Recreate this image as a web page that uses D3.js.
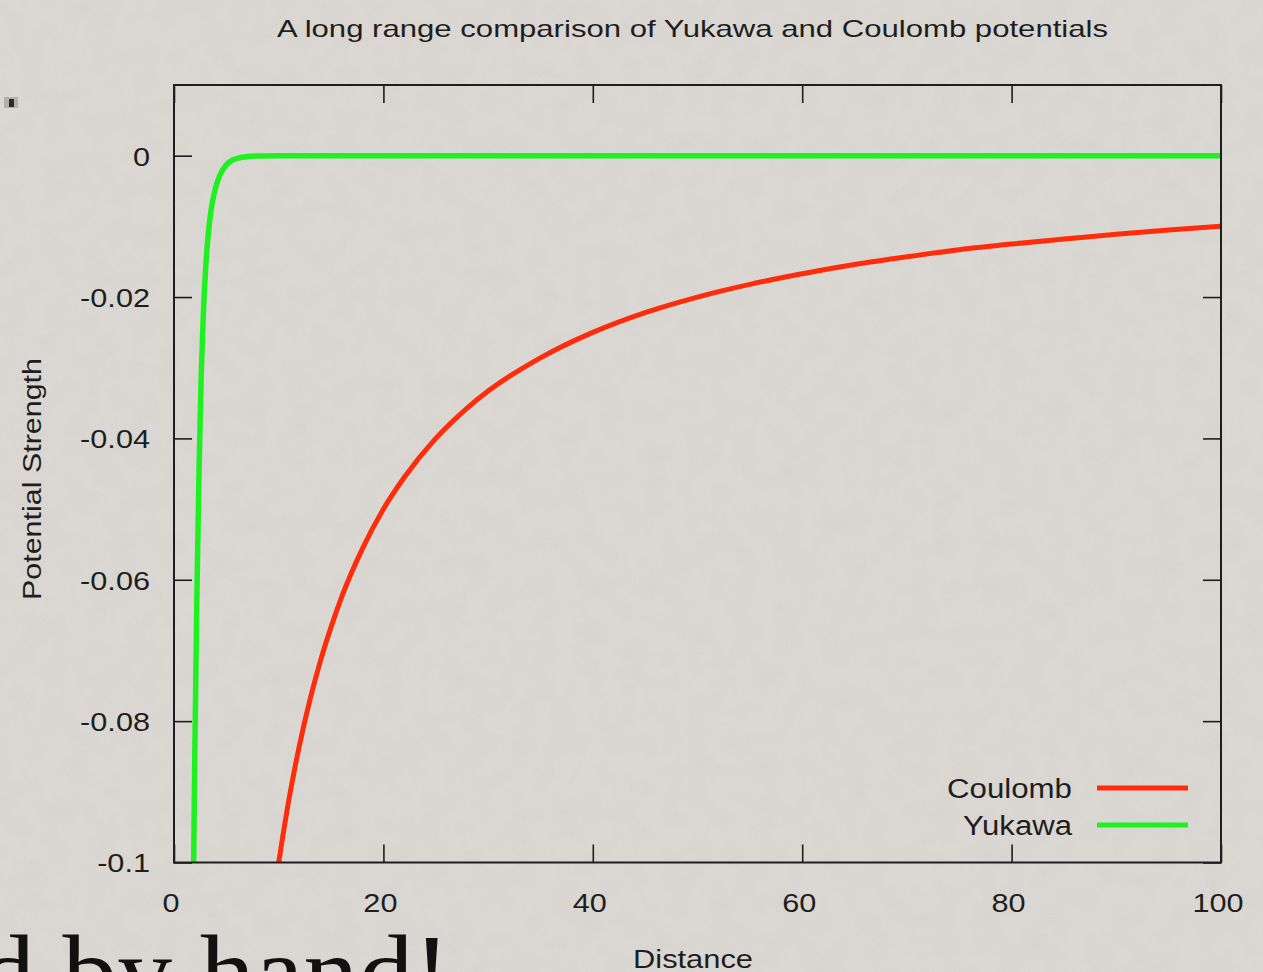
<!DOCTYPE html>
<html>
<head>
<meta charset="utf-8">
<script src="https://cdn.jsdelivr.net/npm/d3@7"></script>
<style>
  html, body { margin: 0; padding: 0; background: #dad7d2; overflow: hidden; }
  svg { display: block; }
</style>
</head>
<body>
<script>
// ---- chart text ----
const titleText = "A long range comparison of Yukawa and Coulomb potentials";
const xAxisLabel = "Distance";
const yAxisLabel = "Potential Strength";
const seriesNames = ["Coulomb", "Yukawa"];
const captionText = "d by hand!";

// ---- ticks ----
const xTicks = [0, 20, 40, 60, 80, 100];
const xTickLabels = ["0", "20", "40", "60", "80", "100"];
const yTicks = [-0.1, -0.08, -0.06, -0.04, -0.02, 0];
const yTickLabels = ["-0.1", "-0.08", "-0.06", "-0.04", "-0.02", "0"];

// ---- series ----
const coulombX = [10, 11, 12, 13, 14, 15, 16, 18, 20, 22, 25, 28, 30, 35, 40, 45, 50, 55, 60, 65, 70, 75, 80, 85, 90, 95, 100];
const coulombY = [-0.1, -0.0909, -0.0833, -0.0769, -0.0714, -0.0667, -0.0625, -0.0556, -0.05, -0.0455, -0.04, -0.0357, -0.0333,
                  -0.0286, -0.025, -0.0222, -0.02, -0.0182, -0.0167, -0.0154, -0.0143, -0.0133, -0.0125, -0.0118, -0.0111, -0.0105, -0.01];

const yukawaX = [1.75, 1.88, 2.0, 2.2, 2.4, 2.6, 2.8, 3.0, 3.2, 3.4, 3.7, 4.0, 4.4, 5.0, 5.5, 6.0, 7.0, 8.0, 10, 20, 40, 60, 80, 100];
const yukawaY = [-0.12, -0.1, -0.083, -0.061, -0.044, -0.031, -0.0225, -0.0165, -0.0123, -0.0093, -0.0063, -0.0044, -0.0027,
                 -0.0013, -0.0007, -0.0004, -0.00013, -0.00004, 0, 0, 0, 0, 0, 0];

// ---- layout & style ----
const W = 1263, H = 972;
const plot = { left: 174, right: 1221, top: 85, bottom: 862.5 };
const colors = { Coulomb: "#ff2c0c", Yukawa: "#1ff01f" };
const ink = "#1e1e1e";
const sansFont = "'Liberation Sans', Arial, sans-serif";
const serifFont = "'Liberation Serif', 'Times New Roman', serif";

const svg = d3.select("body").append("svg")
  .attr("width", W).attr("height", H);

// paper background with a faint mottled texture
const defs = svg.append("defs");
const paper = defs.append("filter").attr("id", "paper")
  .attr("x", 0).attr("y", 0).attr("width", "100%").attr("height", "100%");
paper.append("feTurbulence").attr("type", "fractalNoise")
  .attr("baseFrequency", 0.045).attr("numOctaves", 4).attr("seed", 7).attr("result", "noise");
paper.append("feColorMatrix").attr("in", "noise").attr("type", "matrix")
  .attr("values", "0 0 0 0 0.45  0 0 0 0 0.44  0 0 0 0 0.42  0 0 0 -0.9 0.55");
const grain = defs.append("filter").attr("id", "grain")
  .attr("x", 0).attr("y", 0).attr("width", "100%").attr("height", "100%");
grain.append("feTurbulence").attr("type", "fractalNoise")
  .attr("baseFrequency", 0.9).attr("numOctaves", 1).attr("seed", 3).attr("result", "noise");
grain.append("feColorMatrix").attr("in", "noise").attr("type", "matrix")
  .attr("values", "0 0 0 0 0.3  0 0 0 0 0.3  0 0 0 0 0.28  0 0 0 -1.2 0.62");

svg.append("rect").attr("width", W).attr("height", H).attr("fill", "#dbd8d3");
svg.append("rect").attr("width", W).attr("height", H).attr("filter", "url(#paper)").attr("opacity", 0.18);
svg.append("rect").attr("width", W).attr("height", H).attr("filter", "url(#grain)").attr("opacity", 0.12);

// helper: stretch text horizontally to a target width (or by a factor)
function stretchTo(sel, width) {
  sel.each(function () {
    d3.select(this).attr("textLength", width).attr("lengthAdjust", "spacingAndGlyphs");
  });
}
function stretchBy(sel, factor) {
  sel.each(function () {
    const w = this.getComputedTextLength();
    d3.select(this).attr("textLength", w * factor).attr("lengthAdjust", "spacingAndGlyphs");
  });
}

// ---- scales ----
const x = d3.scaleLinear().domain([0, 100]).range([plot.left, plot.right]);
const y = d3.scaleLinear().domain([-0.1, 0.01]).range([plot.bottom, plot.top]);

// ---- axes (ticks point inward on all four sides) ----
const tickLen = 18;
const fontSize = 26;

const gBottom = svg.append("g").attr("transform", `translate(0,${plot.bottom})`)
  .call(d3.axisBottom(x).tickValues(xTicks).tickSizeInner(-tickLen).tickSizeOuter(0).tickPadding(31)
    .tickFormat((d, i) => xTickLabels[i]));
const gTop = svg.append("g").attr("transform", `translate(0,${plot.top})`)
  .call(d3.axisTop(x).tickValues(xTicks).tickSizeInner(-tickLen).tickSizeOuter(0).tickFormat(""));
const gLeft = svg.append("g").attr("transform", `translate(${plot.left},0)`)
  .call(d3.axisLeft(y).tickValues(yTicks).tickSizeInner(-tickLen).tickSizeOuter(0).tickPadding(24)
    .tickFormat((d, i) => yTickLabels[i]));
const gRight = svg.append("g").attr("transform", `translate(${plot.right},0)`)
  .call(d3.axisRight(y).tickValues(yTicks).tickSizeInner(-tickLen).tickSizeOuter(0).tickFormat(""));

[gBottom, gTop, gLeft, gRight].forEach(g => {
  g.select(".domain").remove();
  g.selectAll(".tick line").attr("stroke", ink).attr("stroke-width", 1.6);
  g.selectAll(".tick text").attr("fill", ink).attr("font-family", sansFont).attr("font-size", fontSize);
});
gBottom.selectAll(".tick text").attr("dx", -3.5);
gLeft.selectAll(".tick text").attr("dy", "0.36em");
stretchBy(gBottom.selectAll(".tick text"), 1.18);
stretchBy(gLeft.selectAll(".tick text"), 1.18);

// ---- curves ----
defs.append("clipPath").attr("id", "plot-clip").append("rect")
  .attr("x", plot.left).attr("y", plot.top)
  .attr("width", plot.right - plot.left).attr("height", plot.bottom - plot.top);

const line = d3.line().x(d => x(d[0])).y(d => y(d[1])).curve(d3.curveMonotoneX);
const coulomb = coulombX.map((v, i) => [v, coulombY[i]]);
const yukawa = yukawaX.map((v, i) => [v, yukawaY[i]]);

const curves = svg.append("g").attr("clip-path", "url(#plot-clip)");
curves.append("path").datum(coulomb).attr("d", line)
  .attr("fill", "none").attr("stroke", colors.Coulomb).attr("stroke-width", 5).attr("stroke-linejoin", "round");
curves.append("path").datum(yukawa).attr("d", line)
  .attr("fill", "none").attr("stroke", colors.Yukawa).attr("stroke-width", 5.5).attr("stroke-linejoin", "round");

// ---- frame ----
svg.append("rect")
  .attr("x", plot.left).attr("y", plot.top)
  .attr("width", plot.right - plot.left).attr("height", plot.bottom - plot.top)
  .attr("fill", "none").attr("stroke", ink).attr("stroke-width", 2);

// ---- legend ----
const legendRows = [
  { name: seriesNames[0], y: 788, width: 125 },
  { name: seriesNames[1], y: 825, width: 109 }
];
const legend = svg.append("g");
legendRows.forEach(r => {
  legend.append("text")
    .attr("x", 1072).attr("y", r.y + 9.5)
    .attr("text-anchor", "end")
    .attr("font-family", sansFont).attr("font-size", 27).attr("fill", ink)
    .text(r.name)
    .call(stretchTo, r.width);
  legend.append("line")
    .attr("x1", 1097).attr("x2", 1188).attr("y1", r.y).attr("y2", r.y)
    .attr("stroke", colors[r.name]).attr("stroke-width", 5);
});

// ---- titles ----
svg.append("text")
  .attr("x", 692.5).attr("y", 37)
  .attr("text-anchor", "middle")
  .attr("font-family", sansFont).attr("font-size", 24).attr("fill", ink)
  .text(titleText)
  .call(stretchTo, 831);

svg.append("text")
  .attr("x", 693).attr("y", 968)
  .attr("text-anchor", "middle")
  .attr("font-family", sansFont).attr("font-size", 25).attr("fill", ink)
  .text(xAxisLabel)
  .call(stretchTo, 120);

svg.append("text")
  .attr("transform", "translate(41,479) rotate(-90)")
  .attr("text-anchor", "middle")
  .attr("font-family", sansFont).attr("font-size", 26).attr("fill", ink)
  .text(yAxisLabel)
  .call(stretchTo, 242);

// small marker at the upper left
svg.append("rect").attr("x", 4).attr("y", 97).attr("width", 14).attr("height", 11).attr("fill", "#b2b0ab");
svg.append("rect").attr("x", 9).attr("y", 99).attr("width", 5).attr("height", 8).attr("fill", "#2a2a2a");

// large serif caption running off the bottom edge
svg.append("text")
  .attr("x", -20).attr("y", 1008)
  .attr("font-family", serifFont).attr("font-size", 106).attr("fill", "#111")
  .text(captionText)
  .call(stretchTo, 470);
</script>
</body>
</html>
